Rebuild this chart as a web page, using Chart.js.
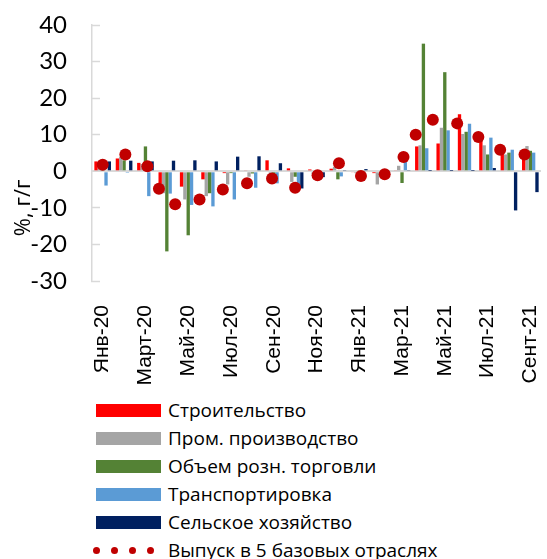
<!DOCTYPE html>
<html>
<head>
<meta charset="utf-8">
<script src="https://cdn.jsdelivr.net/npm/chart.js@4.4.1/dist/chart.umd.min.js"></script>
<style>
  body { margin: 0; background: #fff; }
  #wrap { position: relative; width: 547px; height: 559px; overflow: hidden; }
  #legend { position: absolute; left: 96px; top: 396px; font-family: "Open Sans", sans-serif; font-size: 19px; color: #000; }
  .row { height: 28px; display: flex; align-items: center; white-space: nowrap; }
  .box { width: 65px; height: 13px; margin-right: 7px; flex: none; }
  .dots { width: 65px; margin-right: 7px; flex: none; position: relative; height: 13px; }
  .dots span { position: absolute; top: 3px; width: 7px; height: 7px; border-radius: 50%; background: #c00000; }
</style>
</head>
<body>
<div id="wrap">
  <canvas id="chart" width="547" height="392"></canvas>
  <div id="legend"></div>
</div>
<script>
// months (every second one is shown on the axis)
const months = ['Янв-20', 'Фев-20', 'Март-20', 'Апр-20', 'Май-20', 'Июн-20', 'Июл-20', 'Авг-20', 'Сен-20', 'Окт-20', 'Ноя-20', 'Дек-20',
                'Янв-21', 'Фев-21', 'Мар-21', 'Апр-21', 'Май-21', 'Июн-21', 'Июл-21', 'Авг-21', 'Сент-21'];

// % г/г by sector
const construction = [2.7, 3.5, 2.3, -3.4, -4.2, -2.2, -0.5, 0.3, 3.0, 0.8, 0.5, 0.7, -0.3, -0.5, 0.3, 6.8, 7.6, 15.6, 8.5, 5.8, 4.0];
const industry     = [2.5, 3.9, 2.0, -6.0, -7.7, -6.8, -3.6, -1.5, -1.5, -2.9, -0.8, 1.2, -0.5, -3.6, 1.5, 7.1, 11.9, 10.2, 7.1, 4.6, 6.9];
const retail       = [1.0, 3.0, 6.8, -21.9, -17.5, -6.0, -0.5, -0.6, -1.0, -1.5, -0.3, -2.2, 0.2, -1.0, -3.2, 34.9, 27.1, 10.8, 4.6, 5.1, 5.6];
const transport    = [-3.9, -0.4, -6.8, -6.1, -9.2, -9.6, -7.7, -4.5, -3.3, -4.2, -0.5, -1.4, -0.3, -1.5, 2.6, 6.3, 11.2, 13.0, 9.2, 5.9, 5.1];
const agriculture  = [2.7, 2.9, 2.7, 2.9, 3.0, 2.7, 4.0, 4.1, 2.2, -4.7, -1.6, 0.2, 0.6, 0.3, 0.2, 0.1, 0.1, 0.1, 0.9, -10.7, -5.7];

// output in 5 base sectors (dots; x = position in months from Jan-20)
const outputX = [0.0, 1.06, 2.09, 2.63, 3.39, 4.53, 5.62, 6.75, 7.92, 9.0, 10.05, 11.05, 12.08, 13.19, 14.07, 14.64, 15.44, 16.58, 17.57, 18.59, 19.73];
const outputY = [1.8, 4.6, 1.4, -4.8, -9.0, -7.7, -5.0, -3.3, -2.0, -4.5, -1.1, 2.2, -1.3, -0.8, 3.9, 10.0, 14.1, 13.1, 9.4, 5.9, 4.6];

const yTicksMin = -30, yTicksMax = 40, yStep = 10;

const barSeries = [
  { label: 'Строительство', data: construction, color: '#ff0000' },
  { label: 'Пром. производство', data: industry, color: '#a5a5a5' },
  { label: 'Объем розн. торговли', data: retail, color: '#548235' },
  { label: 'Транспортировка', data: transport, color: '#5b9bd5' },
  { label: 'Сельское хозяйство', data: agriculture, color: '#002060' }
];
const dotLabel = 'Выпуск в 5 базовых отраслях';

const datasets = [{
  type: 'scatter',
  label: dotLabel,
  data: outputX.map((x, i) => ({ x: x, y: outputY[i] })),
  backgroundColor: '#c00000',
  borderWidth: 0,
  pointRadius: 6,
  showLine: false,
  order: -1
}];
barSeries.forEach(s => {
  datasets.push({
    label: s.label,
    data: s.data.map((v, i) => ({ x: i, y: v })),
    backgroundColor: s.color,
    categoryPercentage: 0.78,
    barPercentage: 1.0,
    order: 1
  });
});

// y axis title, drawn below the middle like in the original
const yTitle = {
  id: 'yTitle',
  afterDraw(chart) {
    const c = chart.ctx;
    const y = chart.scales.y;
    c.save();
    c.font = '22px "Open Sans", sans-serif';
    c.fillStyle = '#000';
    c.textAlign = 'center';
    c.textBaseline = 'middle';
    c.translate(24, y.getPixelForValue(-10));
    c.rotate(-Math.PI / 2);
    c.fillText('%, г/г', 0, 0);
    c.restore();
  }
};

const chart = new Chart(document.getElementById('chart').getContext('2d'), {
  type: 'bar',
  data: { datasets: datasets },
  plugins: [yTitle],
  options: {
    responsive: false,
    animation: false,
    layout: { padding: { top: 25, right: 1, left: 0, bottom: 0 } },
    plugins: { legend: { display: false }, tooltip: { enabled: false } },
    scales: {
      x: {
        type: 'linear',
        offset: false,
        min: -0.5,
        max: months.length - 0.5,
        grid: { display: false },
        border: { display: false },
        afterFit: (s) => { s.height = 111; s.paddingLeft = 0; s.paddingRight = 0; },
        afterBuildTicks: (s) => { s.ticks = months.map((m, i) => ({ value: i })); },
        ticks: {
          autoSkip: false,
          maxRotation: 90,
          minRotation: 90,
          padding: 16,
          color: '#000',
          font: { family: '"Liberation Sans", Arial, sans-serif', size: 21 },
          callback: (val) => (val % 2 === 0 ? months[val] : '')
        }
      },
      y: {
        min: yTicksMin,
        max: yTicksMax,
        afterFit: (s) => { s.width = 92; s.paddingTop = 0; s.paddingBottom = 0; },
        border: { color: '#d9d9d9', width: 1.5 },
        grid: {
          drawOnChartArea: true,
          drawTicks: true,
          tickLength: -8,
          color: (ctx) => ctx.tick && ctx.tick.value === 0 ? '#d9d9d9' : 'rgba(0,0,0,0)',
          lineWidth: (ctx) => ctx.tick && ctx.tick.value === 0 ? 2 : 1,
          tickColor: '#d9d9d9',
          tickWidth: 1.5
        },
        ticks: {
          stepSize: yStep,
          padding: 33,
          color: '#000',
          font: { family: 'Lato, sans-serif', size: 24 }
        }
      }
    }
  }
});

// legend below the chart
const legend = document.getElementById('legend');
barSeries.forEach(s => {
  const row = document.createElement('div');
  row.className = 'row';
  row.innerHTML = '<div class="box" style="background:' + s.color + '"></div><span>' + s.label + '</span>';
  legend.appendChild(row);
});
const dotRow = document.createElement('div');
dotRow.className = 'row';
let dots = '';
for (let i = 0; i < 4; i++) dots += '<span style="left:' + (-3.5 + i * 18.3) + 'px"></span>';
dotRow.innerHTML = '<div class="dots">' + dots + '</div><span>' + dotLabel + '</span>';
legend.appendChild(dotRow);
</script>
</body>
</html>
